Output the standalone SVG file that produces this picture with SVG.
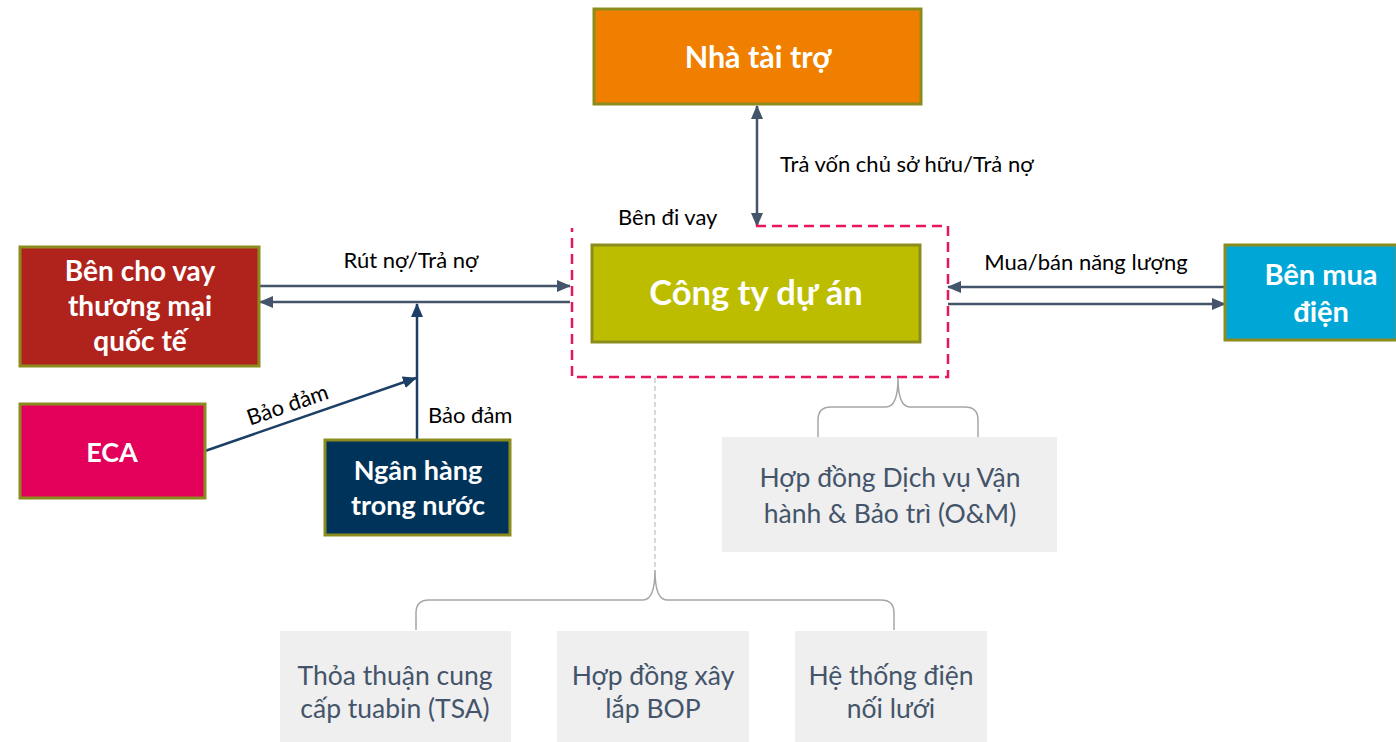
<svg xmlns="http://www.w3.org/2000/svg" width="1396" height="742" viewBox="0 0 1396 742">
<defs>
<style>
.box{stroke:#8C8C1E;stroke-width:3}
.t{font-family:Lato,"Open Sans","Noto Sans",sans-serif;font-weight:bold;fill:#fff;text-anchor:middle}
.lbl{font-family:Lato,"Open Sans","Noto Sans",sans-serif;font-size:22px;fill:#000}
.gray{fill:#EFEFEF}
.gt{font-family:Lato,"Open Sans","Noto Sans",sans-serif;font-size:26.5px;fill:#44546A;text-anchor:middle}
.c1{stroke:#44546A;stroke-width:2.5;fill:none}
.c2{stroke:#1C3F66;stroke-width:2.5;fill:none}
.brace{stroke:#A6A6A6;stroke-width:1.5;fill:none}
</style>
<marker id="a1" markerUnits="userSpaceOnUse" markerWidth="14" markerHeight="12" refX="13" refY="6" orient="auto-start-reverse" viewBox="0 0 14 12">
<path d="M0,0 L14,6 L0,12 Z" fill="#44546A"/>
</marker>
<marker id="a2" markerUnits="userSpaceOnUse" markerWidth="14" markerHeight="12" refX="13" refY="6" orient="auto" viewBox="0 0 14 12">
<path d="M0,0 L14,6 L0,12 Z" fill="#1C3F66"/>
</marker>
</defs>
<rect width="1396" height="742" fill="#fff"/>

<g id="connectors">
<path class="c1" d="M757,106 V226" marker-start="url(#a1)" marker-end="url(#a1)"/>
<path class="c1" d="M260,286 H570" marker-end="url(#a1)"/>
<path class="c1" d="M570,302 H260" marker-end="url(#a1)"/>
<path class="c1" d="M1225,287 H948" marker-end="url(#a1)"/>
<path class="c1" d="M948,304 H1225" marker-end="url(#a1)"/>
<path class="c2" d="M417,440 V304" marker-end="url(#a2)"/>
<path class="c2" d="M205,451 L416,378" marker-end="url(#a2)"/>
<path d="M756,226 H948 V377 H572 V228" fill="none" stroke="#E8175D" stroke-width="2.5" stroke-dasharray="10 6"/>
<path d="M655,378 V570" stroke="#BFBFBF" stroke-width="1.2" stroke-dasharray="5 3" fill="none"/>
<path class="brace" d="M818,437 V420 Q818,407 831,407 H886 Q898,407 898,378 Q898,407 910,407 H965 Q978,407 978,420 V437"/>
<path class="brace" d="M416,630 V613 Q416,600 429,600 H643 Q655,600 655,570 Q655,600 667,600 H881 Q894,600 894,613 V630"/>
<text class="lbl" x="780" y="172">Trả vốn chủ sở hữu/Trả nợ</text>
<text class="lbl" x="618" y="225">Bên đi vay</text>
<text class="lbl" x="411" y="268" text-anchor="middle">Rút nợ/Trả nợ</text>
<text class="lbl" x="1086" y="270" text-anchor="middle">Mua/bán năng lượng</text>
<text class="lbl" x="428" y="423">Bảo đảm</text>
<text class="lbl" x="290" y="412" text-anchor="middle" transform="rotate(-19 290 412)">Bảo đảm</text>
</g>

<g id="nha-tai-tro">
<rect class="box" x="594" y="9" width="327" height="95" fill="#F07F00"/>
<text class="t" x="758" y="68" font-size="30.5">Nhà tài trợ</text>
</g>
<g id="cong-ty-du-an">
<rect class="box" x="592" y="245" width="328" height="97" fill="#BDBD00" stroke="#A8A83A"/>
<text class="t" x="756" y="305" font-size="34.5">Công ty dự án</text>
</g>
<g id="ben-cho-vay">
<rect class="box" x="20" y="247" width="239" height="119" fill="#B0231C"/>
<text class="t" x="140" y="281" font-size="28">Bên cho vay</text>
<text class="t" x="140" y="316" font-size="28">thương mại</text>
<text class="t" x="140" y="351" font-size="28">quốc tế</text>
</g>
<g id="eca">
<rect class="box" x="20" y="404" width="185" height="94" fill="#E2005A"/>
<text class="t" x="112" y="462" font-size="27">ECA</text>
</g>
<g id="ngan-hang">
<rect class="box" x="325" y="440" width="185" height="95" fill="#003359"/>
<text class="t" x="418" y="480" font-size="27">Ngân hàng</text>
<text class="t" x="418" y="515" font-size="27">trong nước</text>
</g>
<g id="ben-mua-dien">
<rect class="box" x="1225" y="245" width="172" height="95" fill="#00A6D6"/>
<text class="t" x="1321" y="285" font-size="29">Bên mua</text>
<text class="t" x="1321" y="322" font-size="29">điện</text>
</g>
<g id="om">
<rect class="gray" x="722" y="437" width="335" height="115"/>
<text class="gt" x="890" y="487">Hợp đồng Dịch vụ Vận</text>
<text class="gt" x="890" y="523">hành &amp; Bảo trì (O&amp;M)</text>
</g>
<g id="tsa">
<rect class="gray" x="280" y="631" width="231" height="111"/>
<text class="gt" x="395" y="685">Thỏa thuận cung</text>
<text class="gt" x="395" y="718">cấp tuabin (TSA)</text>
</g>
<g id="bop">
<rect class="gray" x="557" y="631" width="192" height="111"/>
<text class="gt" x="653" y="685">Hợp đồng xây</text>
<text class="gt" x="653" y="718">lắp BOP</text>
</g>
<g id="he-thong">
<rect class="gray" x="795" y="631" width="192" height="111"/>
<text class="gt" x="891" y="685">Hệ thống điện</text>
<text class="gt" x="891" y="718">nối lưới</text>
</g>
</svg>
